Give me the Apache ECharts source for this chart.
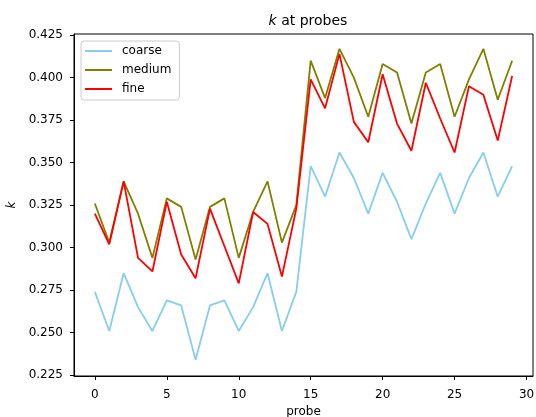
<!DOCTYPE html>
<html>
<head>
<meta charset="utf-8">
<script src="https://cdn.jsdelivr.net/npm/echarts@6/dist/echarts.min.js"></script>
<style>
html, body { margin: 0; padding: 0; background: #fff; }
#chart { width: 536px; height: 417px; }
</style>
</head>
<body>
<div id="chart"></div>
<script>
// probe index 0..29
var probes = [];
for (var i = 0; i < 30; i++) probes.push(i);

var coarse = [0.274, 0.251, 0.285, 0.265, 0.251, 0.269, 0.266, 0.234, 0.266, 0.269,
              0.251, 0.265, 0.285, 0.251, 0.274, 0.348, 0.330, 0.356, 0.341, 0.320,
              0.344, 0.327, 0.305, 0.326, 0.344, 0.320, 0.341, 0.356, 0.330, 0.348];
var medium = [0.326, 0.303, 0.339, 0.320, 0.294, 0.329, 0.324, 0.293, 0.324, 0.329,
              0.294, 0.321, 0.339, 0.303, 0.325, 0.410, 0.388, 0.417, 0.400, 0.377,
              0.408, 0.403, 0.373, 0.403, 0.408, 0.377, 0.399, 0.417, 0.387, 0.410];
var fine = [0.320, 0.302, 0.339, 0.294, 0.286, 0.327, 0.296, 0.282, 0.323, 0.301,
            0.279, 0.321, 0.314, 0.283, 0.323, 0.399, 0.382, 0.414, 0.374, 0.362,
            0.402, 0.373, 0.357, 0.397, 0.376, 0.356, 0.395, 0.390, 0.363, 0.401];

var xTicks = [0, 5, 10, 15, 20, 25, 30];
var yTicks = [0.225, 0.25, 0.275, 0.3, 0.325, 0.35, 0.375, 0.4, 0.425];

var font = 'DejaVu Sans';

function pairs(ys) {
    return ys.map(function (v, i) { return [probes[i], v]; });
}

function lineSeries(name, ys, color) {
    return {
        name: name,
        type: 'line',
        data: pairs(ys),
        showSymbol: false,
        symbol: 'none',
        lineStyle: { color: color, width: 1.8 },
        itemStyle: { color: color },
        animation: false
    };
}

var option = {
    backgroundColor: '#fff',
    animation: false,
    title: {
        text: '{i|k} at probes',
        left: 303,
        top: 9,
        textAlign: 'center',
        textStyle: {
            fontFamily: font,
            fontSize: 14,
            fontWeight: 'normal',
            color: '#000',
            rich: {
                i: { fontFamily: font, fontSize: 14, fontStyle: 'italic', color: '#000' }
            }
        }
    },
    legend: {
        orient: 'vertical',
        left: 81,
        top: 41,
        padding: [3, 8, 4, 4],
        itemGap: 5,
        itemWidth: 27,
        itemHeight: 2,
        icon: 'rect',
        backgroundColor: 'rgba(255,255,255,0.8)',
        borderColor: '#cccccc',
        borderWidth: 1,
        borderRadius: 3,
        textStyle: {
            fontFamily: font,
            fontSize: 12,
            color: '#000',
            lineHeight: 14,
            padding: [0, 0, 0, 5]
        },
        data: ['coarse', 'medium', 'fine']
    },
    grid: {
        show: true,
        left: 74,
        right: 3,
        top: 34,
        bottom: 41,
        containLabel: false,
        outerBoundsMode: 'none',
        borderColor: '#000',
        borderWidth: 1,
        backgroundColor: 'transparent'
    },
    xAxis: {
        type: 'value',
        min: -1.45,
        max: 30.45,
        name: 'probe',
        nameLocation: 'middle',
        nameGap: 26,
        nameTextStyle: { fontFamily: font, fontSize: 12, color: '#000' },
        axisLine: { show: true, onZero: false, lineStyle: { color: '#000', width: 1 } },
        axisTick: { show: true, inside: false, length: 4, customValues: xTicks, lineStyle: { color: '#000' } },
        axisLabel: { fontFamily: font, fontSize: 12, color: '#000', margin: 13, customValues: xTicks },
        splitLine: { show: false }
    },
    yAxis: {
        type: 'value',
        min: 0.2245,
        max: 0.4257,
        name: 'k',
        nameLocation: 'middle',
        nameGap: 54,
        nameTextStyle: { fontFamily: font, fontSize: 12, fontStyle: 'italic', color: '#000' },
        axisLine: { show: true, onZero: false, lineStyle: { color: '#000', width: 1 } },
        axisTick: { show: true, inside: false, length: 4, customValues: yTicks, lineStyle: { color: '#000' } },
        axisLabel: {
            fontFamily: font, fontSize: 12, color: '#000', margin: 11, customValues: yTicks,
            formatter: function (v) { return v.toFixed(3); }
        },
        splitLine: { show: false }
    },
    series: [
        lineSeries('coarse', coarse, '#87CEEB'),
        lineSeries('medium', medium, '#808000'),
        lineSeries('fine', fine, '#FF0000')
    ]
};

var myChart = echarts.init(document.getElementById('chart'), null, { renderer: 'canvas' });
myChart.setOption(option);
</script>
</body>
</html>
